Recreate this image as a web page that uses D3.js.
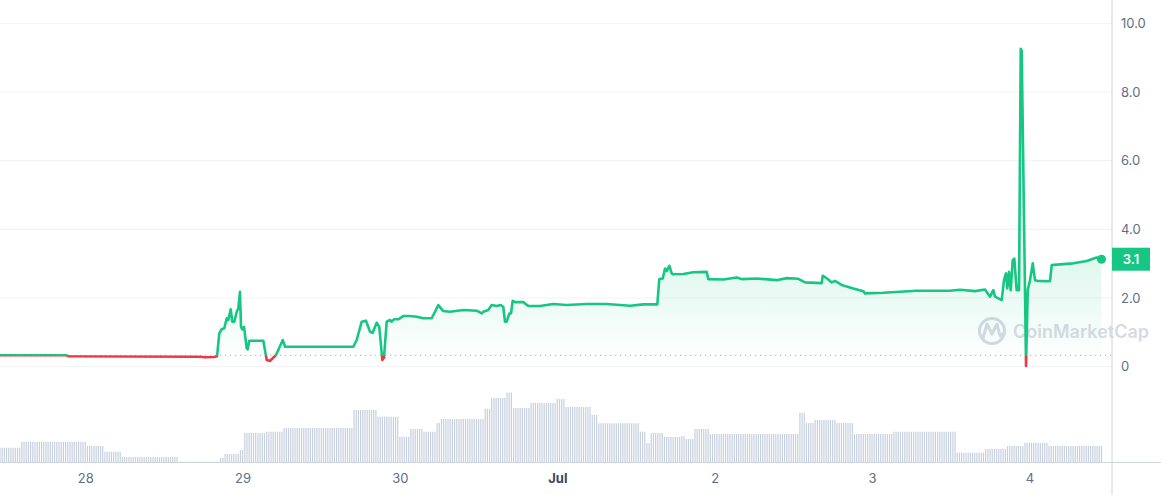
<!DOCTYPE html>
<html><head><meta charset="utf-8">
<script src="https://cdn.jsdelivr.net/npm/d3@7/dist/d3.min.js"></script>
<style>
body{margin:0;background:#fff;}
svg{display:block;font-family:Inter,"Noto Sans",sans-serif;}
</style>
</head><body>
<svg id="c" width="1161" height="495"></svg>
<script>
// ---------- DATA ----------
const startTime = Date.UTC(2023, 5, 27, 11, 0);   // first sample
const spanHours = 168;
// price samples: hours since start, price
const priceHours = [0,10.2,10.45,30.5,31.27,32.64,33.1,33.45,33.81,34.21,34.58,34.82,35.19,35.43,35.74,36.1,36.35,36.6,36.76,36.96,37.22,37.63,37.78,38.02,40.16,40.68,41.18,41.68,42.1,42.45,43.12,43.47,53.89,54.4,55.17,55.82,56.43,56.84,57.45,57.85,58.31,58.57,58.98,59.48,59.74,60.09,60.75,61.51,62.53,63.55,64.56,65.84,66.35,66.85,67.61,68.63,70.66,72.71,73.47,73.71,74.47,74.99,75.76,76.37,76.76,77.02,77.28,77.68,77.94,78.2,78.55,79.81,80.58,82.36,84.39,86.43,89.48,92.53,94.56,96.09,98.12,100.25,100.56,101.08,101.43,101.69,102.08,102.45,102.69,104.22,105.74,107.79,108.03,110.32,112.36,113.12,115.41,118.46,119.99,121.76,122.78,125.33,125.48,126.33,126.85,127.35,128.37,130.15,131.67,131.93,134.72,139.81,144.89,146.42,148.71,150.23,151.0,151.5,151.76,152.78,153.13,153.43,153.63,153.89,154.15,154.46,154.7,155.06,155.42,155.68,155.83,156.49,156.75,157.1,157.51,157.86,158.21,160.15,160.41,161.67,163.7,165.75,167.27,168];
const priceValues = [0.332,0.334,0.303,0.291,0.273,0.282,0.303,0.97,1.09,1.12,1.41,1.36,1.67,1.31,1.31,1.60,1.70,2.18,1.16,1.09,1.16,0.535,0.506,0.756,0.756,0.195,0.166,0.262,0.34,0.486,0.777,0.582,0.582,0.777,1.31,1.34,1.02,0.99,1.28,1.16,0.195,0.27,1.31,1.36,1.31,1.38,1.38,1.475,1.475,1.455,1.41,1.41,1.60,1.795,1.62,1.60,1.65,1.63,1.55,1.60,1.65,1.795,1.766,1.795,1.746,1.31,1.31,1.55,1.55,1.92,1.88,1.88,1.766,1.766,1.824,1.795,1.824,1.824,1.795,1.775,1.816,1.816,2.55,2.57,2.86,2.785,2.94,2.72,2.69,2.70,2.75,2.76,2.55,2.54,2.60,2.55,2.57,2.52,2.58,2.56,2.455,2.435,2.65,2.54,2.455,2.50,2.38,2.28,2.20,2.135,2.153,2.21,2.21,2.24,2.20,2.25,2.04,2.23,2.04,1.94,2.52,2.72,2.28,2.76,2.23,3.10,3.15,2.23,2.23,9.26,9.2,0.02,2.23,2.52,3.01,2.52,2.50,2.49,2.96,2.98,3.01,3.08,3.18,3.13];
// 24h volume plateaus: run start (hours since start) and level (arbitrary units)
const volumeRunStarts = [0,3.05,13.27,15.86,18.6,27.15,33.4,34.16,36.45,37.06,40.42,43.3,54,57.65,60.86,62.53,64.52,66.5,67.26,73.82,74.73,77.18,78.09,80.99,84.95,86.33,90.14,91.05,97.46,98.38,99.14,101.12,103.71,104.63,106,108.29,121.86,122.93,124.15,127.51,130.1,136.05,145.96,150.08,153.59,156.33,160];
const volumeRunValues = [14.3,20.3,16,10.3,5,0.4,4,8,12,29,30.3,34,52,45.3,25.3,33,30.3,39,43,53,64,69.3,54,59,63,55,47,38.7,30.3,19,29,25,26,23,33,28,49.3,39,42,39,28,30.3,9.3,13,16,19.3,16];
const volumeStepMinutes = 20;
const yTicks = [0, 2, 4, 6, 8, 10];
const dayTickLabels = ["28", "29", "30", "Jul", "2", "3", "4"];
const lastPriceLabel = "3.1";

// ---------- BUILD ----------
const H = 3600e3;
const prices = priceHours.map((h, i) => ({t: new Date(startTime + h * H), v: priceValues[i]}));
const base = priceValues[0];
const volumes = [];
for (let m = 0; m <= spanHours * 60; m += volumeStepMinutes) {
  const h = m / 60;
  let k = 0;
  for (let j = 0; j < volumeRunStarts.length; j++) if (volumeRunStarts[j] <= h) k = j;
  volumes.push({t: new Date(startTime + h * H), v: volumeRunValues[k]});
}
const dayTicks = dayTickLabels.map((d, i) => new Date(Date.UTC(2023, 5, 28 + i)));

const svg = d3.select("#c");
const W = 1161, axisX = 1112, volBase = 462;
const x = d3.scaleUtc().domain([new Date(startTime), new Date(startTime + spanHours * H)]).range([0, 1101.5]);
const y = d3.scaleLinear().domain([0, 10]).range([366.7, 23.3]);
const yv = d3.scaleLinear().domain([0, 72]).range([volBase, 390]);
const green = "#16c784", red = "#ea3943";

const defs = svg.append("defs");
const gg = defs.append("linearGradient").attr("id", "gg").attr("gradientUnits", "userSpaceOnUse")
  .attr("x1", 0).attr("x2", 0).attr("y1", y(3)).attr("y2", y(base));
gg.append("stop").attr("offset", 0).attr("stop-color", green).attr("stop-opacity", 0.13);
gg.append("stop").attr("offset", 1).attr("stop-color", green).attr("stop-opacity", 0.01);
const rg = defs.append("linearGradient").attr("id", "rg").attr("gradientUnits", "userSpaceOnUse")
  .attr("x1", 0).attr("x2", 0).attr("y1", y(base)).attr("y2", y(0));
rg.append("stop").attr("offset", 0).attr("stop-color", red).attr("stop-opacity", 0.02);
rg.append("stop").attr("offset", 1).attr("stop-color", red).attr("stop-opacity", 0.15);
defs.append("clipPath").attr("id", "above").append("rect").attr("x", 0).attr("y", 0).attr("width", axisX).attr("height", y(base));
defs.append("clipPath").attr("id", "below").append("rect").attr("x", 0).attr("y", y(base)).attr("width", axisX).attr("height", 495 - y(base));

// gridlines
svg.append("g").selectAll("line").data(yTicks).join("line")
  .attr("x1", 0).attr("x2", axisX).attr("y1", d => y(d)).attr("y2", d => y(d))
  .attr("stroke", "#eff2f5").attr("stroke-width", 1);

// volume bars
svg.append("g").selectAll("rect").data(volumes).join("rect")
  .attr("x", d => x(d.t) - 0.6).attr("width", 1.2)
  .attr("y", d => yv(d.v)).attr("height", d => volBase - yv(d.v))
  .attr("fill", "#c7d0df");

// watermark
const wm = svg.append("g").attr("opacity", 0.9);
wm.append("circle").attr("cx", 992).attr("cy", 331).attr("r", 12.5).attr("fill", "none").attr("stroke", "#d3d7df").attr("stroke-width", 3);
wm.append("path").attr("d", "M983,338 L987,324 L992,334 L997,324 L1000,336 L1004,333")
  .attr("fill", "none").attr("stroke", "#d3d7df").attr("stroke-width", 3).attr("stroke-linejoin", "round").attr("stroke-linecap", "round");
wm.append("text").attr("x", 1013).attr("y", 338).attr("font-size", 18).attr("font-weight", 600)
  .attr("fill", "#d3d7df").text("CoinMarketCap");

// areas
const area = d3.area().x(d => x(d.t)).y0(y(base)).y1(d => y(d.v));
svg.append("path").datum(prices).attr("d", area).attr("fill", "url(#gg)").attr("clip-path", "url(#above)");
svg.append("path").datum(prices).attr("d", area).attr("fill", "url(#rg)").attr("clip-path", "url(#below)");

// baseline dotted
svg.append("line").attr("x1", 0).attr("x2", axisX).attr("y1", y(base)).attr("y2", y(base))
  .attr("stroke", "#a6b0c3").attr("stroke-width", 1).attr("stroke-dasharray", "1.2,3.8");

// price line
const line = d3.line().x(d => x(d.t)).y(d => y(d.v));
svg.append("path").datum(prices).attr("d", line).attr("fill", "none").attr("stroke", green)
  .attr("stroke-width", 2.6).attr("stroke-linejoin", "round").attr("clip-path", "url(#above)");
svg.append("path").datum(prices).attr("d", line).attr("fill", "none").attr("stroke", red)
  .attr("stroke-width", 2.6).attr("stroke-linejoin", "round").attr("clip-path", "url(#below)");

// end dot
const last = prices[prices.length - 1];
svg.append("circle").attr("cx", x(last.t)).attr("cy", y(last.v)).attr("r", 4.5).attr("fill", green);

// axis frame lines
svg.append("line").attr("x1", axisX).attr("x2", axisX).attr("y1", 0).attr("y2", 495).attr("stroke", "#cfd4dc");
svg.append("line").attr("x1", 0).attr("x2", W).attr("y1", volBase + 0.5).attr("y2", volBase + 0.5).attr("stroke", "#cfd4dc");

// y axis (right)
const yAxis = d3.axisRight(y).tickValues(yTicks).tickSize(0).tickPadding(9)
  .tickFormat(d => d === 0 ? "0" : d3.format(".1f")(d));
const gy = svg.append("g").attr("transform", `translate(${axisX},0)`).call(yAxis);
gy.select(".domain").remove();
gy.selectAll("text").attr("font-family", "Inter, sans-serif").attr("font-size", 13).attr("fill", "#616e85");

// price badge
const by = y(last.v);
svg.append("rect").attr("x", axisX).attr("y", by - 11.5).attr("width", 38).attr("height", 23).attr("fill", green);
svg.append("text").attr("x", axisX + 19).attr("y", by + 4.5).attr("text-anchor", "middle")
  .attr("font-size", 13).attr("font-weight", 600).attr("fill", "#fff").text(lastPriceLabel);

// x axis
const xAxis = d3.axisBottom(x).tickValues(dayTicks).tickSize(0).tickPadding(12)
  .tickFormat((d, i) => dayTickLabels[i]);
const gx = svg.append("g").attr("transform", `translate(0,${volBase})`).call(xAxis);
gx.select(".domain").remove();
gx.selectAll("text").attr("font-family", "Inter, sans-serif").attr("font-size", 13)
  .attr("fill", (d, i) => dayTickLabels[i] === "Jul" ? "#3d4657" : "#616e85")
  .attr("font-weight", (d, i) => dayTickLabels[i] === "Jul" ? 700 : 400);
</script>
</body></html>
